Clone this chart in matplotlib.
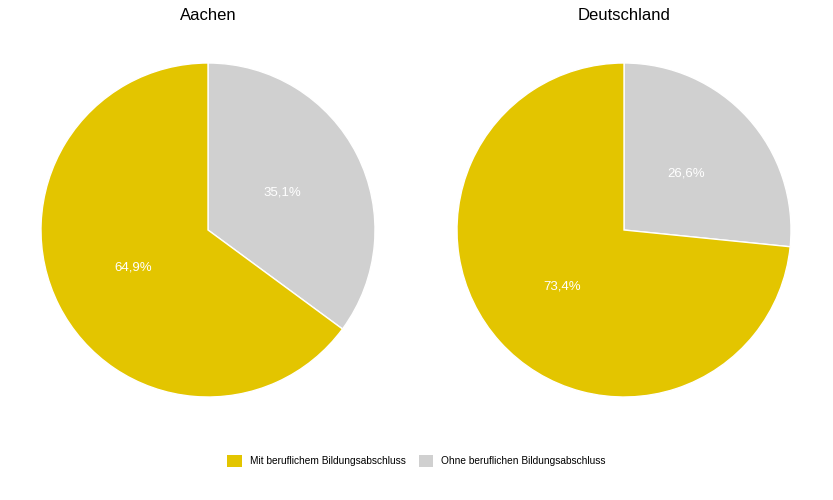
import matplotlib
matplotlib.use("Agg")
from matplotlib import pyplot as plt
from matplotlib.patches import Patch

plt.rcParams['font.family'] = ['Liberation Sans', 'DejaVu Sans']

# data
regions = ['Aachen', 'Deutschland']
categories = ['Mit beruflichem Bildungsabschluss', 'Ohne beruflichen Bildungsabschluss']
mit_abschluss = [64.9, 73.4]
ohne_abschluss = [35.1, 26.6]
colors = ['#E3C500', '#D0D0D0']

fig = plt.figure(figsize=(8.33, 5), dpi=100)

# pie positions (figure fractions)
lefts = [41 / 833, 457 / 833]
for i, region in enumerate(regions):
    ax = fig.add_axes([lefts[i], 103 / 500, 334 / 833, 334 / 500])
    # gray slice first so it starts at 12 o'clock and goes clockwise
    vals = [ohne_abschluss[i], mit_abschluss[i]]
    ax.pie(vals, colors=[colors[1], colors[0]], startangle=90, counterclock=False,
           autopct=lambda p: ('%.1f%%' % p).replace('.', ','), pctdistance=0.5,
           wedgeprops={'edgecolor': 'white', 'linewidth': 1},
           textprops={'color': 'white', 'fontsize': 9.5})
    ax.set_xlim(-1.0, 1.0)
    ax.set_ylim(-1.0, 1.0)
    ax.set_aspect('equal')
    fig.text(lefts[i] + 167 / 833, 1 - 15 / 500, region, ha='center', va='center', fontsize=12)

handles = [Patch(facecolor=c, edgecolor='none') for c in colors]
fig.legend(handles, categories, loc='center', bbox_to_anchor=(0.5, 1 - 461 / 500), ncol=2,
           frameon=False, fontsize=7.3, handlelength=1.4, handleheight=1.4, columnspacing=1.3,
           handletextpad=0.8)

fig.savefig('out.png', dpi=100)
